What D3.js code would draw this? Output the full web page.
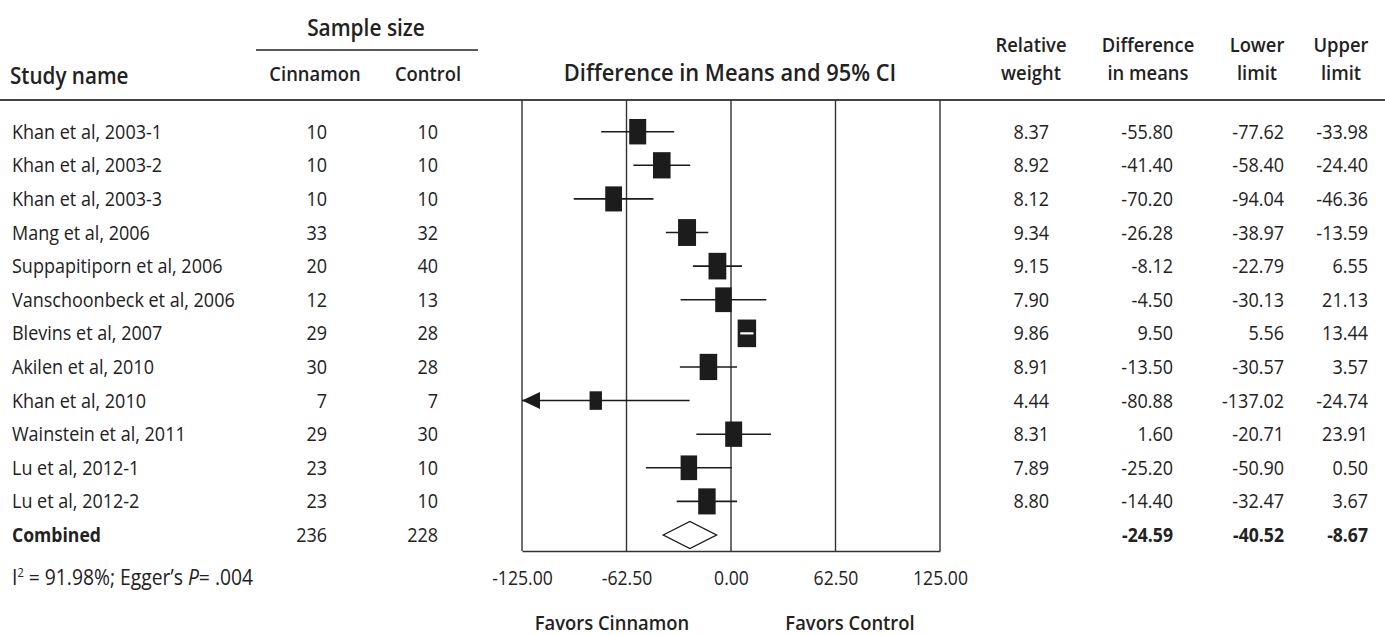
<!DOCTYPE html>
<html>
<head>
<meta charset="utf-8">
<script src="https://cdn.jsdelivr.net/npm/d3@7"></script>
<style>
  html, body { margin: 0; padding: 0; background: #fff; }
  svg { display: block; }
  text { font-family: "Open Sans", "Noto Sans", sans-serif; fill: #222; }
</style>
</head>
<body>
<svg id="chart" width="1385" height="635"></svg>
<script>
// ---------------- DATA ----------------
const studies = [
  "Khan et al, 2003-1", "Khan et al, 2003-2", "Khan et al, 2003-3",
  "Mang et al, 2006", "Suppapitiporn et al, 2006", "Vanschoonbeck et al, 2006",
  "Blevins et al, 2007", "Akilen et al, 2010", "Khan et al, 2010",
  "Wainstein et al, 2011", "Lu et al, 2012-1", "Lu et al, 2012-2"
];
const cinnamonN = [10, 10, 10, 33, 20, 12, 29, 30, 7, 29, 23, 23];
const controlN  = [10, 10, 10, 32, 40, 13, 28, 28, 7, 30, 10, 10];
const weights   = [8.37, 8.92, 8.12, 9.34, 9.15, 7.90, 9.86, 8.91, 4.44, 8.31, 7.89, 8.80];
const diffs     = [-55.80, -41.40, -70.20, -26.28, -8.12, -4.50, 9.50, -13.50, -80.88, 1.60, -25.20, -14.40];
const lowers    = [-77.62, -58.40, -94.04, -38.97, -22.79, -30.13, 5.56, -30.57, -137.02, -20.71, -50.90, -32.47];
const uppers    = [-33.98, -24.40, -46.36, -13.59, 6.55, 21.13, 13.44, 3.57, -24.74, 23.91, 0.50, 3.67];
const combinedLabel = "Combined";
const combinedN = [236, 228];
const combinedDiff = -24.59, combinedLower = -40.52, combinedUpper = -8.67;
const axisTicks = [-125, -62.5, 0, 62.5, 125];
const axisDomain = [-125, 125];

// ---------------- SETUP ----------------
const svg = d3.select("#chart");
const fmt = v => v.toFixed(2);

const x = d3.scaleLinear().domain(axisDomain).range([522, 940]);
const rows = studies.concat([combinedLabel]);
const y = d3.scalePoint().domain(d3.range(rows.length)).range([131.7, 535]);
const boxTop = 100, boxBottom = 551;
const hScale = d3.scaleSqrt().domain([0, 10]).range([0, 27.8]);
const wScale = d3.scaleSqrt().domain([0, 10]).range([0, 18.6]);

function T(sel, px, py, str, o = {}) {
  const t = sel.append("text")
    .attr("transform", `translate(${px},${py}) scale(${o.sx ?? 0.9},1)`)
    .attr("text-anchor", o.anchor || "start")
    .style("font-size", (o.size || 20) + "px")
    .style("font-weight", o.weight || 400);
  if (str !== null) t.text(str);
  return t;
}
const body = {size: 20, sx: 0.9};
const bodyEnd = {size: 20, sx: 0.9, anchor: "end"};
const sub = {size: 20, weight: 600, sx: 0.92, anchor: "middle"};

// ---------------- HEADERS ----------------
const H = svg.append("g");
T(H, 10, 84, "Study name", {size: 24, weight: 600, sx: 0.86});
T(H, 366, 36, "Sample size", {size: 24, weight: 600, sx: 0.87, anchor: "middle"});
H.append("line").attr("x1", 256).attr("x2", 478).attr("y1", 50).attr("y2", 50)
  .attr("stroke", "#222").attr("stroke-width", 1.6);
T(H, 315, 81, "Cinnamon", sub);
T(H, 428, 81, "Control", sub);
T(H, 730, 81, "Difference in Means and 95% CI", {size: 24, weight: 600, sx: 0.91, anchor: "middle"});
const rh = [[1031, "Relative", "weight"], [1148, "Difference", "in means"], [1257, "Lower", "limit"], [1341, "Upper", "limit"]];
rh.forEach(([cx, a, b]) => {
  T(H, cx, 52, a, sub);
  T(H, cx, 80, b, sub);
});
svg.append("line").attr("x1", 0).attr("x2", 1385).attr("y1", boxTop).attr("y2", boxTop)
  .attr("stroke", "#444").attr("stroke-width", 2);

// ---------------- GRID / AXIS ----------------
const G = svg.append("g");
G.selectAll("line.v").data(axisTicks).join("line")
  .attr("x1", d => x(d)).attr("x2", d => x(d))
  .attr("y1", boxTop).attr("y2", boxBottom)
  .attr("stroke", "#333").attr("stroke-width", 1.4);

const axis = d3.axisBottom(x).tickValues(axisTicks).tickSize(0).tickPadding(0)
  .tickFormat(d => fmt(d));
const ax = svg.append("g").attr("transform", `translate(0,${boxBottom})`).call(axis);
ax.select(".domain").attr("stroke", "#333").attr("stroke-width", 1.6);
ax.selectAll(".tick text")
  .attr("dy", null).attr("y", 34).attr("x", 0)
  .style("font-family", '"Open Sans", sans-serif')
  .style("font-size", "20px").style("fill", "#222")
  .attr("transform", "scale(0.88,1)");

T(svg, 612, 630, "Favors Cinnamon", sub);
T(svg, 850, 630, "Favors Control", sub);

// Footer
const ft = T(svg, 12, 585, null, {size: 21, sx: 0.92});
ft.append("tspan").text("I");
ft.append("tspan").attr("dy", -8).style("font-size", "12px").text("2");
ft.append("tspan").attr("dy", 8).text(" = 91.98%; Egger\u2019s ");
ft.append("tspan").style("font-style", "italic").text("P");
ft.append("tspan").text("= .004");

// ---------------- ROWS ----------------
const R = svg.append("g");
studies.forEach((s, i) => {
  const yy = y(i) + 7;
  T(R, 12, yy, s, body);
  T(R, 327, yy, String(cinnamonN[i]), bodyEnd);
  T(R, 438, yy, String(controlN[i]), bodyEnd);
  T(R, 1049, yy, fmt(weights[i]), bodyEnd);
  T(R, 1173, yy, fmt(diffs[i]), bodyEnd);
  T(R, 1284, yy, fmt(lowers[i]), bodyEnd);
  T(R, 1368, yy, fmt(uppers[i]), bodyEnd);
});
const ci = y(rows.length - 1) + 7;
const boldEnd = {size: 20, weight: 700, sx: 0.88, anchor: "end"};
T(R, 12, ci, combinedLabel, {size: 20, weight: 700, sx: 0.88});
T(R, 327, ci, String(combinedN[0]), bodyEnd);
T(R, 438, ci, String(combinedN[1]), bodyEnd);
T(R, 1173, ci, fmt(combinedDiff), boldEnd);
T(R, 1284, ci, fmt(combinedLower), boldEnd);
T(R, 1368, ci, fmt(combinedUpper), boldEnd);

// ---------------- MARKS ----------------
const M = svg.append("g");
const [dmin, dmax] = axisDomain;
studies.forEach((s, i) => {
  const cy = y(i);
  const lo = Math.max(lowers[i], dmin), hi = Math.min(uppers[i], dmax);
  M.append("line").attr("x1", x(lo)).attr("x2", x(hi)).attr("y1", cy).attr("y2", cy)
    .attr("stroke", "#1a1a1a").attr("stroke-width", 1.6);
  if (lowers[i] < dmin) {
    const tx = x(dmin);
    M.append("path").attr("d", `M${tx},${cy} L${tx + 18},${cy - 8.5} L${tx + 18},${cy + 8.5} Z`)
      .attr("fill", "#1a1a1a");
  }
  const w = wScale(weights[i]), h = hScale(weights[i]);
  M.append("rect").attr("x", x(diffs[i]) - w / 2).attr("y", cy - h / 2)
    .attr("width", w).attr("height", h).attr("fill", "#1c1c1c");
  // CI fully inside the box: shown as a white bar
  if (x(lowers[i]) > x(diffs[i]) - w / 2 && x(uppers[i]) < x(diffs[i]) + w / 2) {
    M.append("line").attr("x1", x(lowers[i])).attr("x2", x(uppers[i])).attr("y1", cy).attr("y2", cy)
      .attr("stroke", "#fff").attr("stroke-width", 2.2);
  }
});
// Combined diamond
const cyc = y(rows.length - 1);
M.append("path")
  .attr("d", `M${x(combinedLower)},${cyc} L${x(combinedDiff)},${cyc - 13.5} L${x(combinedUpper)},${cyc} L${x(combinedDiff)},${cyc + 13.5} Z`)
  .attr("fill", "#fff").attr("stroke", "#1a1a1a").attr("stroke-width", 1.4);
</script>
</body>
</html>
